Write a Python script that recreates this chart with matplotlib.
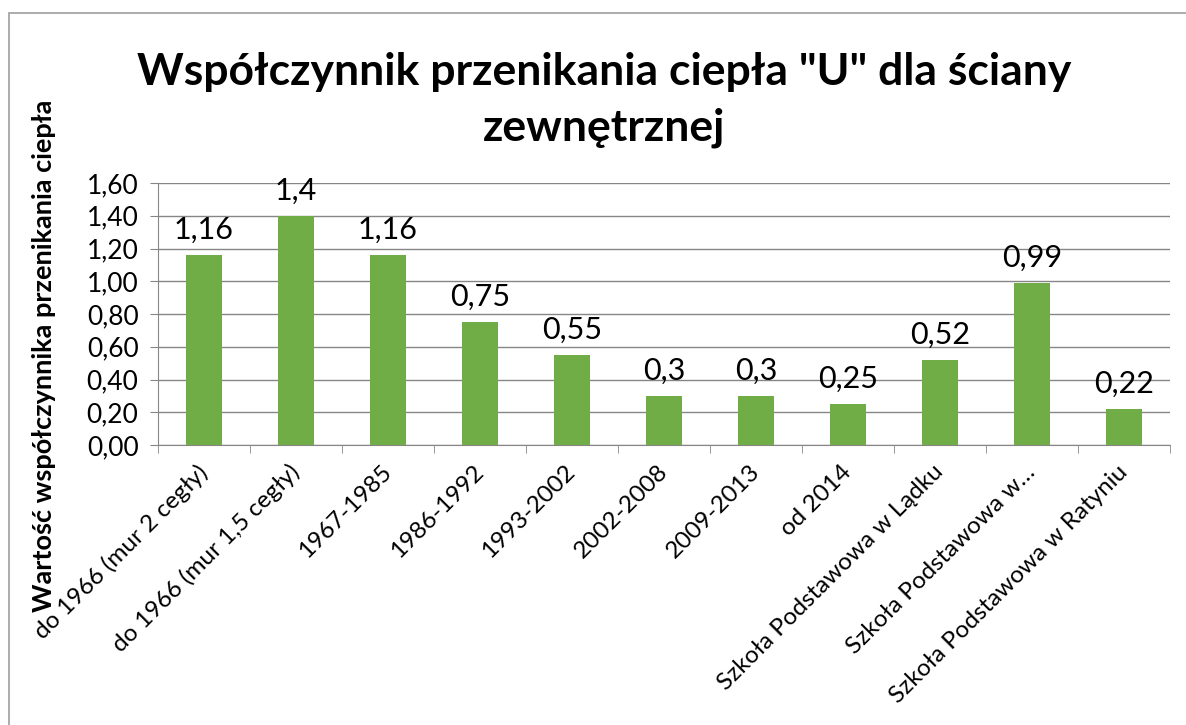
import matplotlib
matplotlib.use("Agg")
import matplotlib.pyplot as plt
from matplotlib.patches import Rectangle
import numpy as np

plt.rcParams['font.family'] = ['Lato', 'DejaVu Sans']

categories = ["do 1966 (mur 2 cegły)", "do 1966 (mur 1,5 cegły)", "1967-1985",
              "1986-1992", "1993-2002", "2002-2008", "2009-2013", "od 2014",
              "Szkoła Podstawowa w Lądku", "Szkoła Podstawowa w…",
              "Szkoła Podstawowa w Ratyniu"]
values = [1.16, 1.4, 1.16, 0.75, 0.55, 0.3, 0.3, 0.25, 0.52, 0.99, 0.22]
value_labels = ["1,16", "1,4", "1,16", "0,75", "0,55", "0,3", "0,3", "0,25",
                "0,52", "0,99", "0,22"]
yticks = [0.0, 0.2, 0.4, 0.6, 0.8, 1.0, 1.2, 1.4, 1.6]

W, H = 1186, 725
fig = plt.figure(figsize=(W / 100, H / 100), dpi=100)
fig.patch.set_facecolor("white")

# chart frame (cut off at right/bottom like the screenshot)
fig.patches.append(Rectangle((9 / W, -0.1), 1.2, 1 - 13 / H + 0.1,
                             transform=fig.transFigure, fill=False,
                             edgecolor="#a6a6a6", lw=1.3))

ax = fig.add_axes([158 / W, 1 - 445 / H, (1170 - 158) / W, (445 - 183) / H])
x = np.arange(len(categories))
ax.bar(x, values, width=0.4, color="#70ad47", zorder=3)

for xi, v, lab in zip(x, values, value_labels):
    ax.annotate(lab, (xi, v), xytext=(0, 8), textcoords="offset points",
                ha="center", va="bottom", fontsize=22, color="#000000")

ax.set_xlim(-0.5, len(categories) - 0.5)
ax.set_ylim(0, 1.6)
ax.set_yticks(yticks)
ax.set_yticklabels([f"{t:.2f}".replace(".", ",") for t in yticks], fontsize=19)
ax.yaxis.grid(True, color="#868686", lw=1, zorder=0)
ax.tick_params(axis="y", length=6, color="#868686", pad=8)

ax.set_xticks(x)
ax.set_xticklabels(categories, rotation=45, ha="right", va="center",
                   rotation_mode="anchor", fontsize=17.5)
ax.tick_params(axis="x", which="major", length=0, pad=17)
ax.set_xticks(np.arange(-0.5, len(categories)), minor=True)
ax.tick_params(axis="x", which="minor", length=6, color="#868686")

for s in ["top", "right"]:
    ax.spines[s].set_visible(False)
for s in ["left", "bottom"]:
    ax.spines[s].set_color("#868686")

ax.set_ylabel("Wartość współczynnika przenikania ciepła", fontsize=19.5,
              fontweight="bold")
ax.yaxis.set_label_coords(-0.101, 0.34)

fig.text(604 / W, 1 - 72 / H, "Współczynnik przenikania ciepła \"U\" dla ściany",
         ha="center", va="center", fontsize=32, fontweight="bold")
fig.text(604 / W, 1 - 128 / H, "zewnętrznej",
         ha="center", va="center", fontsize=32, fontweight="bold")

fig.savefig("out.png", dpi=100)
